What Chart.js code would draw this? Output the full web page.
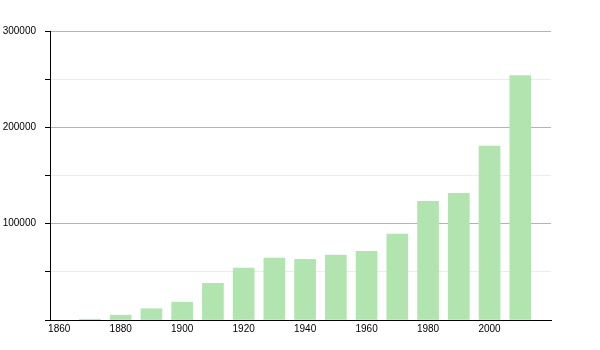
<!DOCTYPE html>
<html><head><meta charset="utf-8">
<script src="https://cdn.jsdelivr.net/npm/chart.js@4"></script>
<style>html,body{margin:0;padding:0;background:#fff}#c{display:block}</style>
</head><body>
<canvas id="c" width="600" height="350"></canvas>
<script>
const years = [1870,1880,1890,1900,1910,1920,1930,1940,1950,1960,1970,1980,1990,2000,2010];
const population = [800,5000,11700,18500,38000,54000,64400,63000,67500,71300,89300,123200,131500,180600,253600];
const xTicks = [1860,1880,1900,1920,1940,1960,1980,2000];
const yLabels = [0,100000,200000,300000];

new Chart(document.getElementById('c'), {
  type: 'bar',
  data: {
    datasets: [{
      data: years.map((y,i)=>({x:y, y:population[i]})),
      backgroundColor: '#b1e4ae',
      borderWidth: 0,
      barThickness: 21
    }]
  },
  options: {
    responsive: false,
    animation: false,
    layout: {padding: {top: 31, right: 49, left: 0, bottom: 0}},
    plugins: {legend: {display: false}, tooltip: {enabled: false}},
    scales: {
      x: {
        type: 'linear', min: 1857, max: 2020, offset: false,
        afterBuildTicks: s => { s.ticks = xTicks.map(v=>({value:v})); },
        afterFit: s => { s.height = 30; },
        grid: {display: false, drawTicks: false, offset: false},
        border: {display: true, color: '#000', width: 1},
        ticks: {color: '#000', font: {family: 'Liberation Sans, Arial', size: 10}, padding: 3, maxRotation: 0, autoSkip: false, callback: v => String(v)}
      },
      y: {
        min: 0, max: 300000,
        afterBuildTicks: s => { const t=[]; for (let v=0; v<=300000; v+=50000) t.push({value:v}); s.ticks=t; },
        afterFit: s => { s.width = 50; },
        grid: {
          color: c => (c.tick && c.tick.value % 100000 === 0) ? '#b4b4b4' : '#ececec',
          tickColor: '#000', tickLength: 5
        },
        border: {display: true, color: '#000', width: 1},
        ticks: {color: '#000', font: {family: 'Liberation Sans, Arial', size: 10}, padding: 9,
          callback: v => (yLabels.includes(v) && v !== 0) ? String(v) : ''}
      }
    }
  }
});
</script>
</body></html>
